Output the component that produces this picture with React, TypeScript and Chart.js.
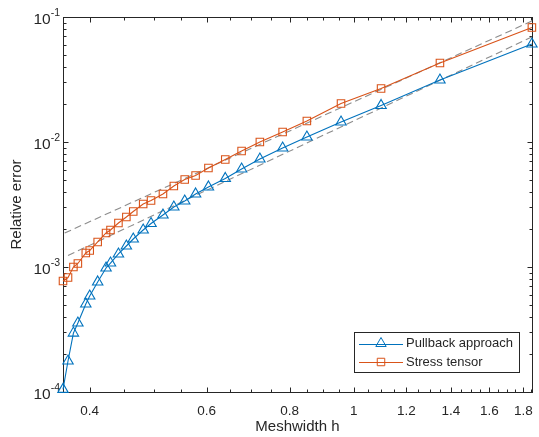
import React, { useEffect, useRef } from 'react';
import { Chart, registerables } from 'chart.js';

Chart.register(...registerables);

// ---------- data ----------
const meshwidth = [
  0.3647, 0.3711, 0.3781, 0.3840, 0.3947, 0.4001, 0.4113, 0.4234, 0.4300, 0.4420,
  0.4543, 0.4653, 0.4816, 0.4949, 0.5158, 0.5356, 0.5562, 0.5776, 0.6039, 0.6402,
  0.6775, 0.7218, 0.7811, 0.8496, 0.9564, 1.0989, 1.3478, 1.8540,
];
const pullbackError = [
  1.05e-4, 1.77e-4, 2.96e-4, 3.56e-4, 5.06e-4, 5.86e-4, 7.59e-4, 9.82e-4, 1.076e-3, 1.271e-3,
  1.472e-3, 1.675e-3, 1.977e-3, 2.228e-3, 2.606e-3, 3.02e-3, 3.37e-3, 3.84e-3, 4.37e-3, 5.11e-3,
  6.08e-3, 7.31e-3, 8.95e-3, 1.096e-2, 1.445e-2, 1.96e-2, 3.13e-2, 6.08e-2,
];
const stressError = [
  7.73e-4, 8.24e-4, 1.0e-3, 1.067e-3, 1.294e-3, 1.355e-3, 1.585e-3, 1.871e-3, 1.977e-3, 2.249e-3,
  2.512e-3, 2.78e-3, 3.19e-3, 3.40e-3, 3.84e-3, 4.45e-3, 5.01e-3, 5.40e-3, 6.19e-3, 7.24e-3,
  8.47e-3, 1.0e-2, 1.202e-2, 1.472e-2, 2.03e-2, 2.68e-2, 4.29e-2, 8.24e-2,
];
const guideUpperH = [0.3668, 1.854];
const guideUpperErr = [1.87e-3, 9.29e-2];
const guideLowerH = [0.3711, 1.854];
const guideLowerErr = [1.236e-3, 6.92e-2];

const seriesLabels = ['Pullback approach', 'Stress tensor'];
const xTickValues = [0.4, 0.6, 0.8, 1, 1.2, 1.4, 1.6, 1.8];
const xTickLabels = ['0.4', '0.6', '0.8', '1', '1.2', '1.4', '1.6', '1.8'];
const yTickValues = [1e-4, 1e-3, 1e-2, 1e-1];
const yTickExponents = ['-4', '-3', '-2', '-1'];
const xTitle = 'Meshwidth h';
const yTitle = 'Relative error';

// ---------- style ----------
const FONT = '"Liberation Sans", Arial, Helvetica, sans-serif';
const AXIS = '#262626';
const BLUE = '#0072BD';
const RED = '#D95319';
const GUIDE = '#8c8c8c';

function drawMarker(ctx: CanvasRenderingContext2D, style: string, x: number, y: number, r: number, color: string) {
  ctx.save();
  ctx.strokeStyle = color;
  ctx.lineWidth = 1;
  ctx.beginPath();
  if (style === 'triangle') {
    const ang = [0, (2 * Math.PI) / 3, (4 * Math.PI) / 3];
    ang.forEach((a, i) => {
      const px = x + Math.sin(a) * r;
      const py = y - Math.cos(a) * r;
      if (i === 0) ctx.moveTo(px, py);
      else ctx.lineTo(px, py);
    });
    ctx.closePath();
  } else {
    const s = Math.SQRT1_2 * r;
    ctx.rect(x - s, y - s, 2 * s, 2 * s);
  }
  ctx.stroke();
  ctx.restore();
}

const axesPlugin = {
  id: 'matlabAxes',
  beforeDatasetsDraw(chart: any) {
    const { ctx, chartArea: a, scales } = chart;
    const xs = scales.x;
    const ys = scales.y;
    const L = Math.round(a.left) + 0.5;
    const R = Math.round(a.right) + 0.5;
    const T = Math.round(a.top) + 0.5;
    const B = Math.round(a.bottom) + 0.5;
    ctx.save();
    ctx.strokeStyle = AXIS;
    ctx.lineWidth = 1;
    ctx.strokeRect(L, T, R - L, B - T);

    ctx.beginPath();
    const xMin = xs.min;
    const xMax = xs.max;
    for (let k = 1; k <= 40; k++) {
      const v = Math.round(k * 5) / 100;
      if (v < xMin || v > xMax + 1e-9) continue;
      const isMajor = xTickValues.some((t) => Math.abs(t - v) < 1e-9);
      const len = isMajor ? 5 : 3;
      const px = Math.round(xs.getPixelForValue(v)) + 0.5;
      ctx.moveTo(px, B);
      ctx.lineTo(px, B - len);
      ctx.moveTo(px, T);
      ctx.lineTo(px, T + len);
    }
    for (let e = -4; e <= -1; e++) {
      for (let m = 1; m <= 9; m++) {
        const v = m * Math.pow(10, e);
        if (v < ys.min * 0.999 || v > ys.max * 1.001) continue;
        const len = m === 1 ? 5 : 3;
        const py = Math.round(ys.getPixelForValue(v)) + 0.5;
        ctx.moveTo(L, py);
        ctx.lineTo(L + len, py);
        ctx.moveTo(R, py);
        ctx.lineTo(R - len, py);
      }
    }
    ctx.stroke();

    // tick labels
    ctx.fillStyle = AXIS;
    ctx.font = `13.5px ${FONT}`;
    ctx.textAlign = 'center';
    ctx.textBaseline = 'middle';
    xTickValues.forEach((v, i) => {
      ctx.fillText(xTickLabels[i], xs.getPixelForValue(v), 411);
    });
    yTickValues.forEach((v, i) => {
      const py = ys.getPixelForValue(v);
      ctx.font = `10.5px ${FONT}`;
      ctx.textAlign = 'right';
      const ew = ctx.measureText(yTickExponents[i]).width;
      ctx.fillText(yTickExponents[i], 60, py - 4);
      ctx.font = `15.5px ${FONT}`;
      ctx.fillText('10', 60 - ew, py + 3);
    });

    // axis titles
    ctx.font = `15px ${FONT}`;
    ctx.textAlign = 'center';
    ctx.fillText(xTitle, (a.left + a.right) / 2, 427);
    ctx.save();
    ctx.translate(17, (a.top + a.bottom) / 2);
    ctx.rotate(-Math.PI / 2);
    ctx.fillText(yTitle, 0, 0);
    ctx.restore();
    ctx.restore();
  },
  afterDraw(chart: any) {
    const { ctx } = chart;
    ctx.save();
    const bx = 354.5, by = 332.5, bw = 165, bh = 40;
    ctx.fillStyle = '#ffffff';
    ctx.fillRect(bx, by, bw, bh);
    ctx.strokeStyle = AXIS;
    ctx.lineWidth = 1;
    ctx.strokeRect(bx, by, bw, bh);
    const rows = [343.5, 362];
    const colors = [BLUE, RED];
    const styles = ['triangle', 'rect'];
    const radii = [6, 5.3];
    rows.forEach((ry, i) => {
      ctx.strokeStyle = colors[i];
      ctx.lineWidth = 1;
      ctx.beginPath();
      ctx.moveTo(359, Math.round(ry) + 0.5);
      ctx.lineTo(403, Math.round(ry) + 0.5);
      ctx.stroke();
      drawMarker(ctx, styles[i], 381, ry, radii[i], colors[i]);
      ctx.fillStyle = AXIS;
      ctx.font = `13px ${FONT}`;
      ctx.textAlign = 'left';
      ctx.textBaseline = 'middle';
      ctx.fillText(seriesLabels[i], 406, ry);
    });
    ctx.restore();
  },
};

export default function App() {
  const canvasRef = useRef<HTMLCanvasElement | null>(null);

  useEffect(() => {
    if (!canvasRef.current) return;
    const toPts = (xs: number[], ys: number[]) => xs.map((x, i) => ({ x, y: ys[i] }));
    const chart = new Chart(canvasRef.current, {
      type: 'line',
      data: {
        datasets: [
          {
            label: seriesLabels[0],
            data: toPts(meshwidth, pullbackError),
            borderColor: BLUE,
            borderWidth: 1.1,
            pointStyle: 'triangle',
            pointRadius: 6,
            pointBorderColor: BLUE,
            pointBackgroundColor: 'rgba(0,0,0,0)',
            pointBorderWidth: 1.1,
            tension: 0,
            fill: false,
            clip: false,
          },
          {
            label: seriesLabels[1],
            data: toPts(meshwidth, stressError),
            borderColor: RED,
            borderWidth: 1.1,
            pointStyle: 'rect',
            pointRadius: 5.3,
            pointBorderColor: RED,
            pointBackgroundColor: 'rgba(0,0,0,0)',
            pointBorderWidth: 1.1,
            tension: 0,
            fill: false,
            clip: false,
          },
          {
            label: 'guide upper',
            data: toPts(guideUpperH, guideUpperErr),
            borderColor: GUIDE,
            borderWidth: 1.1,
            borderDash: [7, 4],
            pointRadius: 0,
            fill: false,
          },
          {
            label: 'guide lower',
            data: toPts(guideLowerH, guideLowerErr),
            borderColor: GUIDE,
            borderWidth: 1.1,
            borderDash: [7, 4],
            pointRadius: 0,
            fill: false,
          },
        ],
      },
      options: {
        responsive: false,
        animation: false,
        devicePixelRatio: 1,
        events: [],
        layout: { padding: { left: 63, right: 2, top: 17, bottom: 45 } },
        scales: {
          x: {
            type: 'logarithmic',
            display: false,
            bounds: 'data',
            min: meshwidth[0],
            max: meshwidth[meshwidth.length - 1],
          },
          y: {
            type: 'logarithmic',
            display: false,
            bounds: 'data',
            min: yTickValues[0],
            max: yTickValues[yTickValues.length - 1],
          },
        },
        plugins: {
          legend: { display: false },
          tooltip: { enabled: false },
        },
      },
      plugins: [axesPlugin],
    });
    return () => chart.destroy();
  }, []);

  return (
    <div style={{ position: 'fixed', left: 0, top: 0, width: 539, height: 437, background: '#ffffff' }}>
      <canvas ref={canvasRef} width={539} height={437} style={{ display: 'block' }} />
    </div>
  );
}
